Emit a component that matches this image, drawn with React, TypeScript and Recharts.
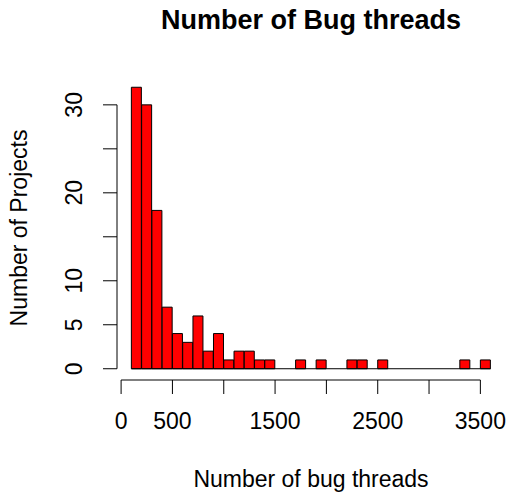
import { BarChart, Bar, XAxis, YAxis, ReferenceLine, Label } from "recharts";

// histogram bins (left edge, width 100) and how many projects fall in each
const binStarts = [
  100, 200, 300, 400, 500, 600, 700, 800, 900, 1000, 1100, 1200, 1300, 1400,
  1500, 1600, 1700, 1800, 1900, 2000, 2100, 2200, 2300, 2400, 2500, 2600,
  2700, 2800, 2900, 3000, 3100, 3200, 3300, 3400, 3500,
];
const counts = [
  32, 30, 18, 7, 4, 3, 6, 2, 4, 1, 2, 2, 1, 1, 0, 0, 1, 0, 1, 0, 0, 1, 1, 0,
  1, 0, 0, 0, 0, 0, 0, 0, 1, 0, 1,
];
const binWidth = 100;

const xTicks = [0, 500, 1000, 1500, 2000, 2500, 3000, 3500];
const xTickLabels = [0, 500, 1500, 2500, 3500];
const yTicks = [0, 5, 10, 15, 20, 25, 30];
const yTickLabels = [0, 5, 10, 20, 30];

// R-style plot region: data range padded by 4%
const xDomain = [-40, 3740];
const yDomain = [-1.28, 33.28];

const data = binStarts.map((start, i) => ({
  mid: start + binWidth / 2,
  count: counts[i],
}));

const FONT = "'Liberation Sans', Arial, Helvetica, sans-serif";
const FS = 23;

function XTick(props: any) {
  const { x, y, payload } = props;
  if (!xTickLabels.includes(payload.value)) return null;
  return (
    <text x={x} y={y} dy="0.71em" textAnchor="middle" fontSize={FS} fill="#000" fontFamily={FONT}>
      {payload.value}
    </text>
  );
}

function YTick(props: any) {
  const { x, y, payload } = props;
  if (!yTickLabels.includes(payload.value)) return null;
  return (
    <text
      x={x}
      y={y}
      transform={`rotate(-90, ${x}, ${y})`}
      textAnchor="middle"
      fontSize={FS}
      fill="#000"
      fontFamily={FONT}
    >
      {payload.value}
    </text>
  );
}

export default function App() {
  const lastEnd = binStarts[binStarts.length - 1] + binWidth;
  return (
    <div
      style={{
        position: "absolute",
        left: 0,
        top: 0,
        width: 507,
        height: 494,
        background: "#fff",
        fontFamily: FONT,
      }}
    >
      <svg width={507} height={45} style={{ position: "absolute", left: 0, top: 0 }}>
        <text x={311} y={28.5} textAnchor="middle" fontSize={27} fontWeight="bold" fill="#000" fontFamily={FONT}>
          Number of Bug threads
        </text>
      </svg>
      <BarChart
        width={507}
        height={494}
        data={data}
        margin={{ top: 76, right: 2, bottom: 113, left: 116 }}
        barCategoryGap={0}
        barGap={0}
      >
        <XAxis
          dataKey="mid"
          type="number"
          domain={xDomain}
          ticks={xTicks}
          allowDataOverflow
          height={1}
          axisLine={false}
          tickLine={{ stroke: "#000", strokeWidth: 1 }}
          tickSize={14}
          tickMargin={19}
          tick={<XTick />}
          interval={0}
        >
          <Label
            content={(p: any) => {
              const vb = p.viewBox;
              return (
                <text
                  x={vb.x + vb.width / 2}
                  y={486.5}
                  textAnchor="middle"
                  fontSize={FS}
                  fill="#000"
                  fontFamily={FONT}
                >
                  Number of bug threads
                </text>
              );
            }}
          />
        </XAxis>
        <YAxis
          type="number"
          domain={yDomain}
          ticks={yTicks}
          allowDataOverflow
          width={1}
          axisLine={false}
          tickLine={{ stroke: "#000", strokeWidth: 1 }}
          tickSize={14}
          tickMargin={20.5}
          tick={<YTick />}
          interval={0}
        >
          <Label
            content={(p: any) => {
              const vb = p.viewBox;
              const cy = vb.y + vb.height / 2;
              return (
                <text
                  x={27}
                  y={cy}
                  transform={`rotate(-90, 27, ${cy})`}
                  textAnchor="middle"
                  fontSize={FS}
                  fill="#000"
                  fontFamily={FONT}
                >
                  Number of Projects
                </text>
              );
            }}
          />
        </YAxis>
        <ReferenceLine
          segment={[
            { x: binStarts[0], y: 0 },
            { x: lastEnd, y: 0 },
          ]}
          stroke="#000"
          strokeWidth={1}
        />
        <ReferenceLine
          segment={[
            { x: xTicks[0], y: yDomain[0] },
            { x: xTicks[xTicks.length - 1], y: yDomain[0] },
          ]}
          stroke="#000"
          strokeWidth={1}
          ifOverflow="visible"
        />
        <ReferenceLine
          segment={[
            { x: xDomain[0], y: yTicks[0] },
            { x: xDomain[0], y: yTicks[yTicks.length - 1] },
          ]}
          stroke="#000"
          strokeWidth={1}
          ifOverflow="visible"
        />
        <Bar dataKey="count" fill="#ff0000" stroke="#000" strokeWidth={1} isAnimationActive={false} />
      </BarChart>
    </div>
  );
}
